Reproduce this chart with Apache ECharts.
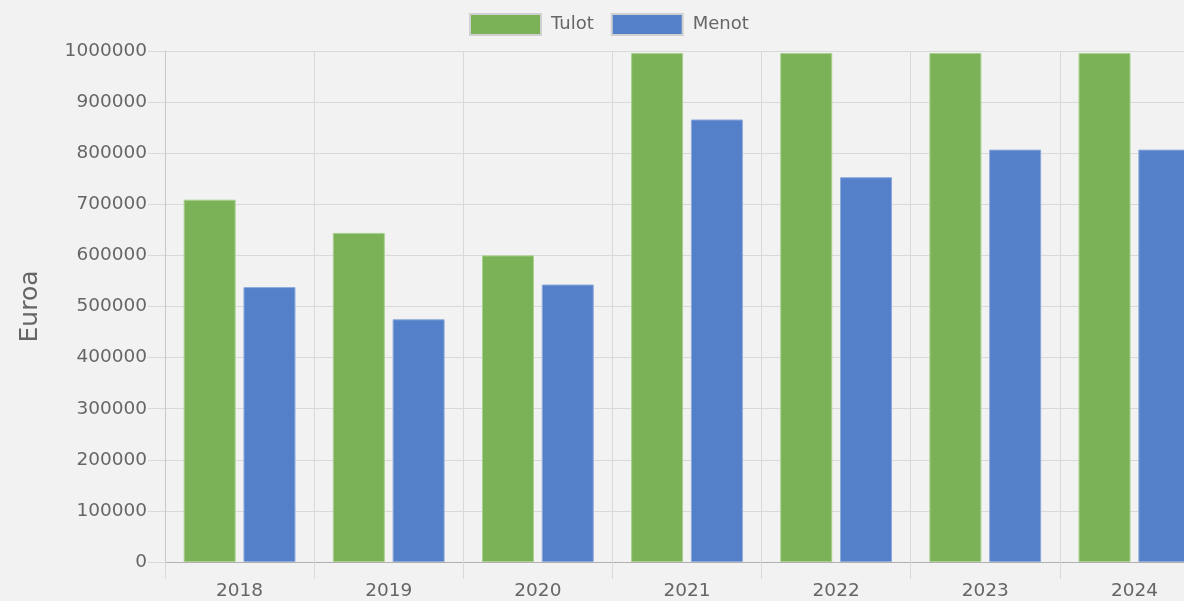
<!DOCTYPE html>
<html>
<head>
<meta charset="utf-8">
<script src="https://cdn.jsdelivr.net/npm/echarts@6/dist/echarts.min.js"></script>
<style>
	html, body { margin: 0; padding: 0; background: #f2f2f2; }
	#chart { width: 1184px; height: 601px; }
</style>
</head>
<body>
<div id="chart"></div>
<script>
	// values
	var years = [ "2018", "2019", "2020", "2021", "2022", "2023", "2024" ];
	var tulot = [ 709000, 644000, 600000, 996000, 996000, 996000, 996000 ];
	var menot = [ 538000, 475000, 543000, 866000, 753000, 807000, 807000 ];

	var textColor = "#666666";
	var gridColor = "#d9d9d9";
	var font = "DejaVu Sans, sans-serif";

	var chart = echarts.init(document.getElementById("chart"));
	chart.setOption({
		backgroundColor : "#f2f2f2",
		animation : false,
		legend : {
			left : 464,
			top : 8,
			icon : "rect",
			itemWidth : 71,
			itemHeight : 21,
			itemGap : 17,
			itemStyle : {
				borderColor : "#d0d0d0",
				borderWidth : 2
			},
			textStyle : {
				color : textColor,
				fontSize : 18,
				fontFamily : font,
				padding : [ 0, 0, 0, 5 ]
			},
			data : [ "Tulot", "Menot" ]
		},
		grid : {
			left : 165,
			width : 1044,
			top : 51,
			height : 511,
			outerBoundsMode : "none"
		},
		xAxis : {
			type : "category",
			data : years,
			axisLine : {
				lineStyle : {
					color : "#b0b0b0",
					width : 1
				}
			},
			axisTick : {
				show : true,
				length : 17,
				lineStyle : {
					color : gridColor
				}
			},
			splitLine : {
				show : true,
				lineStyle : {
					color : gridColor
				}
			},
			axisLabel : {
				color : textColor,
				fontSize : 18.5,
				fontFamily : font,
				margin : 20
			}
		},
		yAxis : {
			type : "value",
			min : 0,
			max : 1000000,
			interval : 100000,
			name : "Euroa",
			nameLocation : "middle",
			nameGap : 122,
			nameRotate : 90,
			nameTextStyle : {
				color : textColor,
				fontSize : 25,
				fontFamily : font
			},
			axisLine : {
				show : true,
				lineStyle : {
					color : "#c8c8c8"
				}
			},
			axisTick : {
				show : true,
				length : 17,
				lineStyle : {
					color : gridColor
				}
			},
			splitLine : {
				lineStyle : {
					color : gridColor
				}
			},
			axisLabel : {
				color : textColor,
				fontSize : 18.5,
				fontFamily : font,
				margin : 18,
				formatter : function(v) {
					return String(v);
				}
			}
		},
		series : [ {
			name : "Tulot",
			type : "bar",
			data : tulot,
			barWidth : 52,
			barGap : "15%",
			itemStyle : {
				color : "#7bb257",
				borderColor : "#a9d08e",
				borderWidth : 1
			}
		}, {
			name : "Menot",
			type : "bar",
			data : menot,
			barWidth : 52,
			itemStyle : {
				color : "#5480c9",
				borderColor : "#8eaadb",
				borderWidth : 1
			}
		} ]
	});
</script>
</body>
</html>
